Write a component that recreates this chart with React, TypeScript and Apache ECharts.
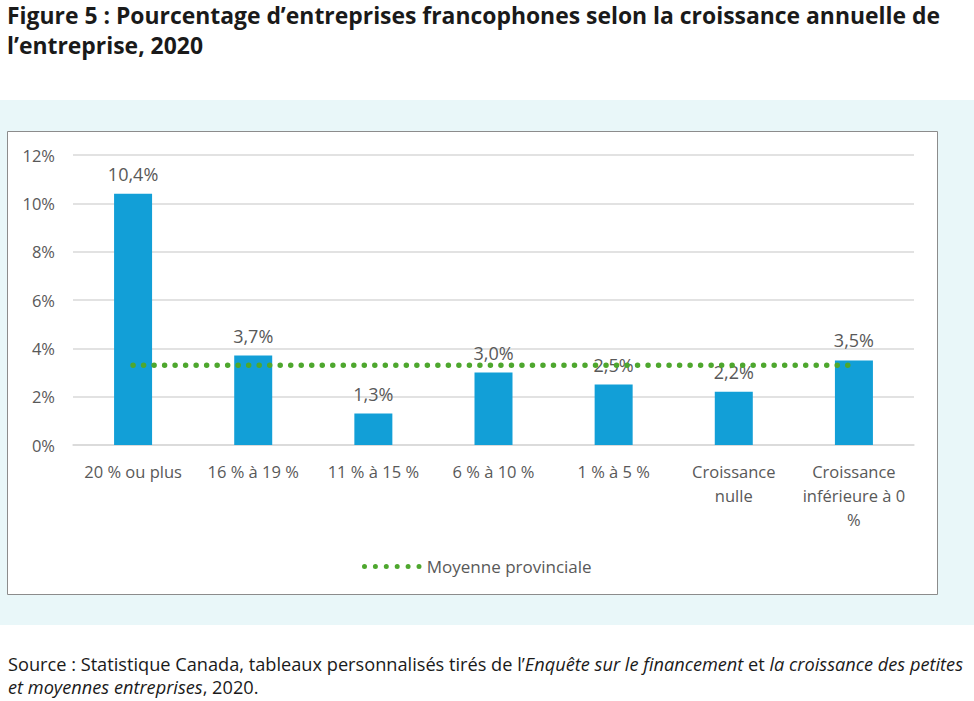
import React, { useEffect, useRef } from "react";
import * as echarts from "echarts";

const categories = [
  "20 % ou plus",
  "16 % à 19 %",
  "11 % à 15 %",
  "6 % à 10 %",
  "1 % à 5 %",
  "Croissance\nnulle",
  "Croissance\ninférieure à 0\n%",
];
const values = [10.4, 3.7, 1.3, 3.0, 2.5, 2.2, 3.5];
const provincialAverage = [3.3, 3.3, 3.3, 3.3, 3.3, 3.3, 3.3];
const yTicks = { min: 0, max: 12, interval: 2 };
const titleLines = [
  "Figure 5 : Pourcentage d’entreprises francophones selon la croissance annuelle de",
  "l’entreprise, 2020",
];
const legendName = "Moyenne provinciale";

function dotsPath(n: number, r: number, gap: number) {
  let d = "path://";
  for (let i = 0; i < n; i++) {
    const cx = r + i * gap;
    d += `M${cx - r},${r}a${r},${r} 0 1,0 ${2 * r},0a${r},${r} 0 1,0 ${-2 * r},0Z`;
  }
  return d;
}

export default function App() {
  const ref = useRef<HTMLDivElement>(null);
  useEffect(() => {
    if (!ref.current) return;
    const chart = echarts.init(ref.current, undefined, { renderer: "svg" });
    const gray = "#595959";
    const font = "'Open Sans', sans-serif";
    chart.setOption({
      animation: false,
      backgroundColor: "#ffffff",
      graphic: [
        { type: "rect", z: -10, shape: { x: 0, y: 100, width: 974, height: 525 }, style: { fill: "#e9f7f9" } },
        { type: "rect", z: -9, shape: { x: 7.5, y: 131.5, width: 930, height: 463 }, style: { fill: "#ffffff", stroke: "#8c8c8c", lineWidth: 1 } },
        { type: "text", left: 7, top: 4, style: { text: titleLines[0], font: `bold 22.9px ${font}`, fill: "#1a1a1a" } },
        { type: "text", left: 7, top: 34, style: { text: titleLines[1], font: `bold 22.9px ${font}`, fill: "#1a1a1a" } },
        {
          type: "text",
          left: 8,
          top: 652,
          style: {
            text: "Source : Statistique Canada, tableaux personnalisés tirés de l’{i|Enquête sur le financement} et {i|la croissance des petites}\n{i|et moyennes entreprises}, 2020.",
            font: `18.2px ${font}`,
            fill: "#1a1a1a",
            lineHeight: 23,
            rich: { i: { fontStyle: "italic", font: `italic 18.2px ${font}`, fill: "#1a1a1a", lineHeight: 23 } },
          },
        },
      ],
      grid: { left: 73, right: 60, top: 155, bottom: 256, containLabel: false },
      legend: {
        data: [{ name: legendName, icon: dotsPath(6, 2.5, 10.9) }],
        left: 357,
        top: 553,
        itemWidth: 60,
        itemHeight: 5,
        textStyle: { color: gray, fontSize: 17, fontFamily: font },
      },
      xAxis: {
        type: "category",
        data: categories,
        axisTick: { show: false },
        axisLine: { lineStyle: { color: "#d9d9d9", width: 1.5 } },
        axisLabel: { color: gray, fontSize: 16.5, fontFamily: font, lineHeight: 24, margin: 14, interval: 0 },
      },
      yAxis: {
        type: "value",
        min: yTicks.min,
        max: yTicks.max,
        interval: yTicks.interval,
        axisLabel: { color: gray, fontSize: 16.5, fontFamily: font, formatter: "{value}%", margin: 18 },
        splitLine: { lineStyle: { color: "#d9d9d9", width: 1.5 } },
        axisLine: { show: false },
        axisTick: { show: false },
      },
      series: [
        {
          type: "bar",
          data: values,
          barWidth: 38,
          itemStyle: { color: "#129fd7" },
          label: {
            show: true,
            position: "top",
            distance: 11,
            color: gray,
            fontSize: 18,
            fontFamily: font,
            formatter: (p: any) => String(p.value.toFixed(1)).replace(".", ",") + "%",
          },
        },
        {
          type: "line",
          name: legendName,
          data: provincialAverage,
          symbol: "none",
          lineStyle: { color: "#4ea72e", width: 5.5, type: [0.01, 10.5], cap: "round" },
          itemStyle: { color: "#4ea72e" },
          z: 5,
        },
      ],
    });
    return () => chart.dispose();
  }, []);
  return <div ref={ref} style={{ position: "fixed", left: 0, top: 0, width: 974, height: 701 }} />;
}
